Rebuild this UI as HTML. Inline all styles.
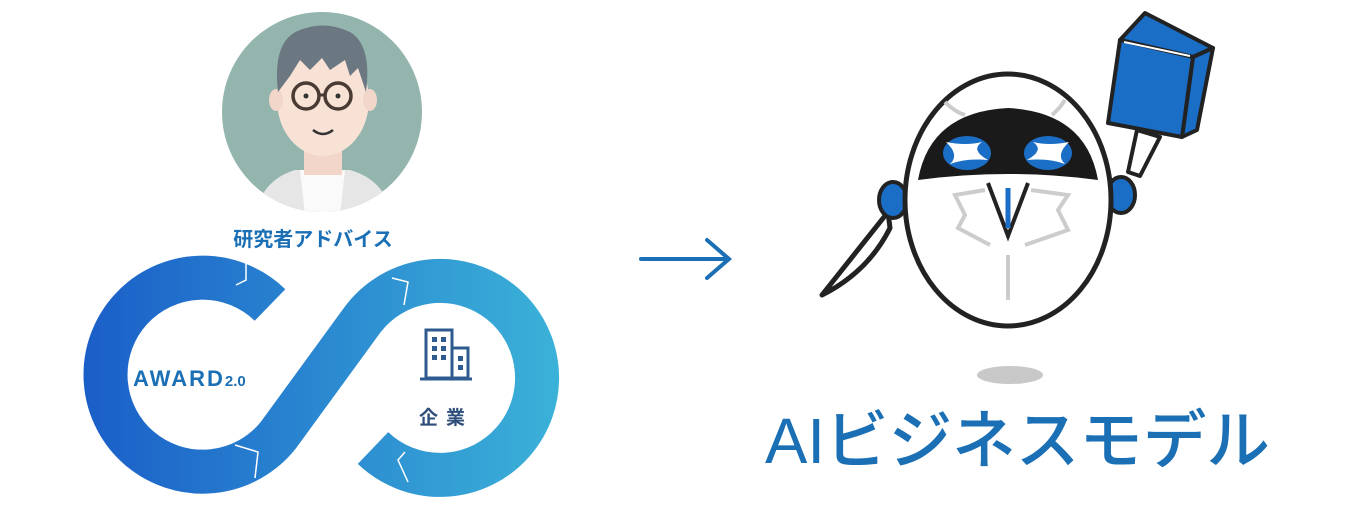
<!DOCTYPE html>
<html><head><meta charset="utf-8"><style>
html,body{margin:0;padding:0;background:#fff;width:1349px;height:529px;overflow:hidden}
</style></head><body>
<svg width="1349" height="529" viewBox="0 0 1349 529" xmlns="http://www.w3.org/2000/svg">
<defs>
<linearGradient id="g" gradientUnits="userSpaceOnUse" x1="83" y1="0" x2="560" y2="0">
<stop offset="0" stop-color="#1a5ec8"/><stop offset="1" stop-color="#3bb2d8"/></linearGradient>
<clipPath id="cc"><circle cx="322" cy="112" r="100"/></clipPath>
</defs>
<!-- avatar -->
<g clip-path="url(#cc)">
<rect x="200" y="0" width="250" height="220" fill="#93b5ae"/>
<path d="M255 215 Q262 180 295 170 L350 170 Q385 180 392 215 Z" fill="#e6e6e6"/>
<path d="M300 170 L345 170 L340 215 L305 215 Z" fill="#fafafa"/>
<rect x="304" y="140" width="38" height="35" fill="#f1d6c9"/>
<ellipse cx="323" cy="100" rx="46" ry="56" fill="#f8e2d6"/>
<ellipse cx="276" cy="100" rx="7" ry="11" fill="#f1d6c9"/>
<ellipse cx="370" cy="100" rx="7" ry="11" fill="#f1d6c9"/>
<path d="M278 92 Q272 40 300 30 Q325 20 350 32 Q372 45 366 92 L358 68 L350 76 L345 60 L330 70 L322 58 L310 70 L300 60 L290 76 Z" fill="#6b7781"/>
<circle cx="306" cy="96" r="13" fill="none" stroke="#4a3a34" stroke-width="3.5"/>
<circle cx="338" cy="96" r="13" fill="none" stroke="#4a3a34" stroke-width="3.5"/>
<line x1="319" y1="95" x2="325" y2="95" stroke="#4a3a34" stroke-width="3"/>
<circle cx="306" cy="96" r="2.5" fill="#333"/><circle cx="338" cy="96" r="2.5" fill="#333"/>
<path d="M313 130 Q323 138 333 130" fill="none" stroke="#333" stroke-width="2.5"/>
</g>
<text x="313" y="246" text-anchor="middle" font-family="Liberation Sans,'Noto Sans CJK JP',sans-serif" font-weight="bold" font-size="20" fill="#1a6fb5">研究者アドバイス</text>
<!-- infinity -->
<path d="M270 305 A 97 97 0 1 0 278.4 435.1 L 361.6 320.9 A 97 97 0 1 1 373 448" fill="none" stroke="url(#g)" stroke-width="44"/>
<g stroke="#fff" stroke-width="1.5" fill="none">
<path d="M236 285 L246 280 L246 260"/><path d="M392 278 L408 282 L404 305"/>
<path d="M235 445 L258 452 L255 478"/><path d="M405 452 L398 460 L408 482"/>
</g>
<text x="133" y="386" font-family="Liberation Sans,sans-serif" font-weight="bold" font-size="22" fill="#1a6fb5" letter-spacing="2">AWARD<tspan font-size="15" letter-spacing="0">2.0</tspan></text>
<!-- building -->
<g fill="none" stroke="#2d5a8f" stroke-width="3">
<rect x="426" y="330" width="26" height="48"/><rect x="452" y="348" width="16" height="30"/>
<line x1="420" y1="379" x2="472" y2="379"/></g>
<g fill="#2d5a8f"><rect x="432" y="337" width="5" height="5"/><rect x="441" y="337" width="5" height="5"/><rect x="432" y="346" width="5" height="5"/><rect x="441" y="346" width="5" height="5"/><rect x="432" y="355" width="5" height="5"/><rect x="441" y="355" width="5" height="5"/><rect x="458" y="356" width="5" height="5"/><rect x="458" y="365" width="5" height="5"/></g>
<text x="446" y="424" text-anchor="middle" font-family="'Noto Sans CJK JP',sans-serif" font-weight="bold" font-size="19" fill="#2d4d7a" letter-spacing="8">企業</text>
<!-- arrow -->
<g stroke="#1a6fb5" stroke-width="4" fill="none" stroke-linecap="round">
<line x1="641" y1="259" x2="728" y2="259"/><polyline points="707,240 729,259 707,278"/></g>
<!-- robot -->
<ellipse cx="1010" cy="375" rx="33" ry="9" fill="#c8c8c8"/>
<path d="M1128 172 L1137 130 L1160 137 L1140 176 Z" fill="#fff" stroke="#222" stroke-width="4" stroke-linejoin="round"/>
<path d="M1120 40 L1145 13 L1213 48 L1193 57 Z" fill="#1a6ec6" stroke="#222" stroke-width="4" stroke-linejoin="round"/>
<path d="M1193 57 L1213 48 L1197 130 L1182 137 Z" fill="#1a6ec6" stroke="#222" stroke-width="4" stroke-linejoin="round"/>
<path d="M1120 40 L1193 57 L1182 137 L1108 123 Z" fill="#1a6ec6" stroke="#222" stroke-width="4" stroke-linejoin="round"/>
<path d="M1124 42 L1190 56" stroke="#fff" stroke-width="2"/>
<path d="M888 212 L822 295 Q868 272 890 228 Z" fill="#fff" stroke="#222" stroke-width="5" stroke-linejoin="round"/>
<ellipse cx="893" cy="200" rx="14" ry="18" fill="#1a6ec6" stroke="#222" stroke-width="4"/>
<ellipse cx="1121" cy="195" rx="14" ry="18" fill="#1a6ec6" stroke="#222" stroke-width="4"/>
<ellipse cx="1008" cy="200" rx="103" ry="126" fill="#fff" stroke="#222" stroke-width="5"/>
<path d="M945 102 Q955 112 965 115 M1052 115 Q1060 108 1065 100" stroke="#ccc" stroke-width="4" fill="none"/>
<path d="M918 180 Q930 112 1008 108 Q1086 112 1098 180 Q1008 168 918 180 Z" fill="#1a1a1a"/>
<ellipse cx="967" cy="153" rx="24" ry="17" fill="#1a6ec6"/><ellipse cx="1048" cy="153" rx="24" ry="17" fill="#1a6ec6"/>
<path d="M946 142 Q966 146 982 142 Q970 150 988 160 Q966 158 950 164 Q960 155 946 142 Z" fill="#fff"/>
<path d="M1069 142 Q1049 146 1033 142 Q1045 150 1027 160 Q1049 158 1065 164 Q1055 155 1069 142 Z" fill="#fff"/>
<path d="M988 183 L1008 236 L1028 183" fill="#fff" stroke="#222" stroke-width="4"/>
<path d="M1008 188 L1008 228" stroke="#1a6ec6" stroke-width="5"/>
<path d="M985 190 L955 195 L965 215 L958 228 L990 245 M1031 190 L1068 195 L1058 210 L1068 230 L1025 245 M1008 255 L1008 300" stroke="#ccc" stroke-width="4" fill="none"/>
<!-- title -->
<text x="765" y="463" textLength="505" lengthAdjust="spacingAndGlyphs" font-family="Liberation Sans,'Noto Sans CJK JP',sans-serif" font-weight="500" font-size="64" fill="#1a6fb5">AIビジネスモデル</text>
</svg>
</body></html>
